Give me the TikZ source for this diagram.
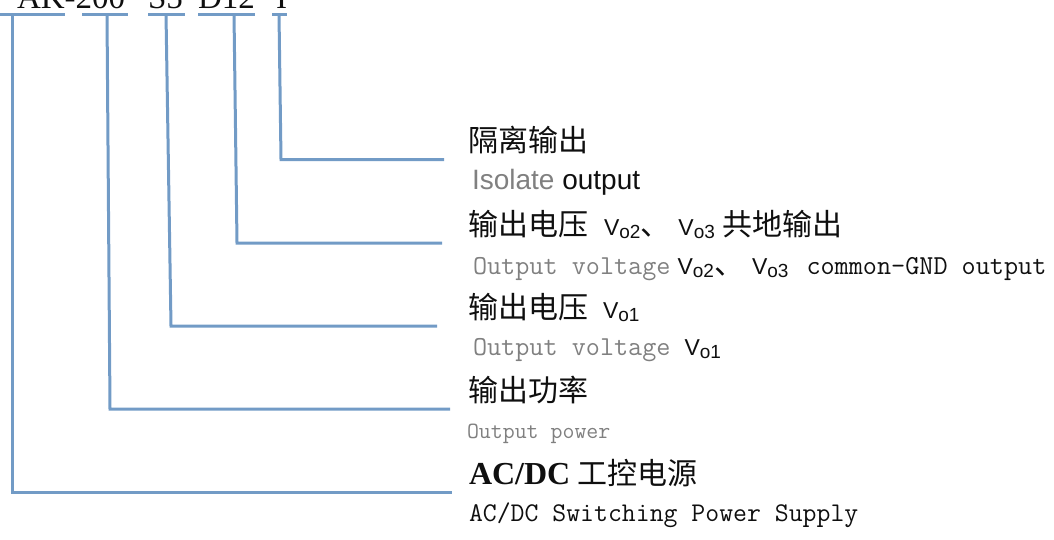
\documentclass[tikz,border=0pt]{standalone}
\usepackage{fontspec}
\newfontfamily\cjk{Noto Sans CJK SC}
\newfontfamily\arialf{Liberation Sans}
\newfontfamily\timesf{Liberation Serif}
\definecolor{bracketblue}{RGB}{114,155,198}
\definecolor{txtgray}{RGB}{128,128,128}
\definecolor{txtblack}{RGB}{15,15,15}
\newcommand\Vsub[1]{{\arialf\fontsize{23}{27}\selectfont V\raisebox{-3pt}{\fontsize{19}{22}\selectfont #1}}}
\newcommand\fcjk{\cjk\fontsize{30}{36}\selectfont}
\newcommand\dun{{\fcjk 、}\hspace{8pt}}
\begin{document}
\begin{tikzpicture}[x=1pt,y=-1pt,
  lbl/.style={anchor=base west, inner sep=0pt, outer sep=0pt, text=txtblack},
  bracket/.style={draw=bracketblue, line width=3pt},
  cjklbl/.style={lbl, font=\fcjk},
  monolbl/.style={lbl, font=\ttfamily\fontsize{#1}{#1}\selectfont},
]
\useasboundingbox (0,0) rectangle (1054,539);

% model code (clipped at top, as in the reference)
\node[lbl, font=\timesf\fontsize{33}{36}\selectfont] (codeA) at (17,8) {AK-200};
\node[lbl, font=\timesf\fontsize{33}{36}\selectfont] (codeB) at (148,8) {S5};
\node[lbl, font=\timesf\fontsize{33}{36}\selectfont] (codeC) at (198,8) {D12};
\node[lbl, font=\timesf\fontsize{33}{36}\selectfont] (codeD) at (276,8) {I};

% labels
\node[cjklbl] (r5c) at (468,151.5) {隔离输出};
\node[lbl, font=\arialf\fontsize{28}{30}\selectfont] (r5e) at (472,189) {\textcolor{txtgray}{Isolate} output};

\node[cjklbl] (r4c) at (468,235) {输出电压\hspace{16pt}\Vsub{o2}\dun\Vsub{o3}\hspace{8pt}共地输出};
\node[monolbl=27.4] (r4e) at (473,274) {\textcolor{txtgray}{Output voltage}\hspace{7pt}\Vsub{o2}\dun\Vsub{o3}\hspace{18pt}common-GND output};

\node[cjklbl] (r3c) at (468,318) {输出电压\hspace{15pt}\Vsub{o1}};
\node[monolbl=27.4] (r3e) at (473,355) {\textcolor{txtgray}{Output voltage}\hspace{14pt}\Vsub{o1}};

\node[cjklbl] (r2c) at (468,401) {输出功率};
\node[monolbl=23.2, text=txtgray] (r2e) at (467,438) {Output power};

\node[cjklbl] (r1c) at (469,484) {{\timesf\bfseries\fontsize{32}{36}\selectfont AC/DC}\hspace{7pt}工控电源};
\node[monolbl=27] (r1e) at (469,521) {AC/DC Switching Power Supply};

% bracket coordinates
\coordinate (a1l) at (-2,14);   \coordinate (a1r) at (65,14);
\coordinate (a1t) at (12,14);   \coordinate (a1c) at (12,492);  \coordinate (a1e) at (452,492);
\coordinate (a2l) at (82,14);   \coordinate (a2r) at (128,14);
\coordinate (a2t) at (107,14);  \coordinate (a2c) at (110,409); \coordinate (a2e) at (450,409);
\coordinate (a3l) at (148,14);  \coordinate (a3r) at (185,14);
\coordinate (a3t) at (166,14);  \coordinate (a3c) at (171,326); \coordinate (a3e) at (437,326);
\coordinate (a4l) at (198,14);  \coordinate (a4r) at (255,14);
\coordinate (a4t) at (234,14);  \coordinate (a4c) at (237,243); \coordinate (a4e) at (442,243);
\coordinate (a5l) at (272,14);  \coordinate (a5r) at (287,14);
\coordinate (a5t) at (279,14);  \coordinate (a5c) at (281,159.5); \coordinate (a5e) at (444,159.5);

\foreach \i in {1,...,5}{
  \draw[bracket] (a\i l) -- (a\i r);
  \draw[bracket] (a\i t) -- (a\i c) -- (a\i e);
}
\end{tikzpicture}
\end{document}
